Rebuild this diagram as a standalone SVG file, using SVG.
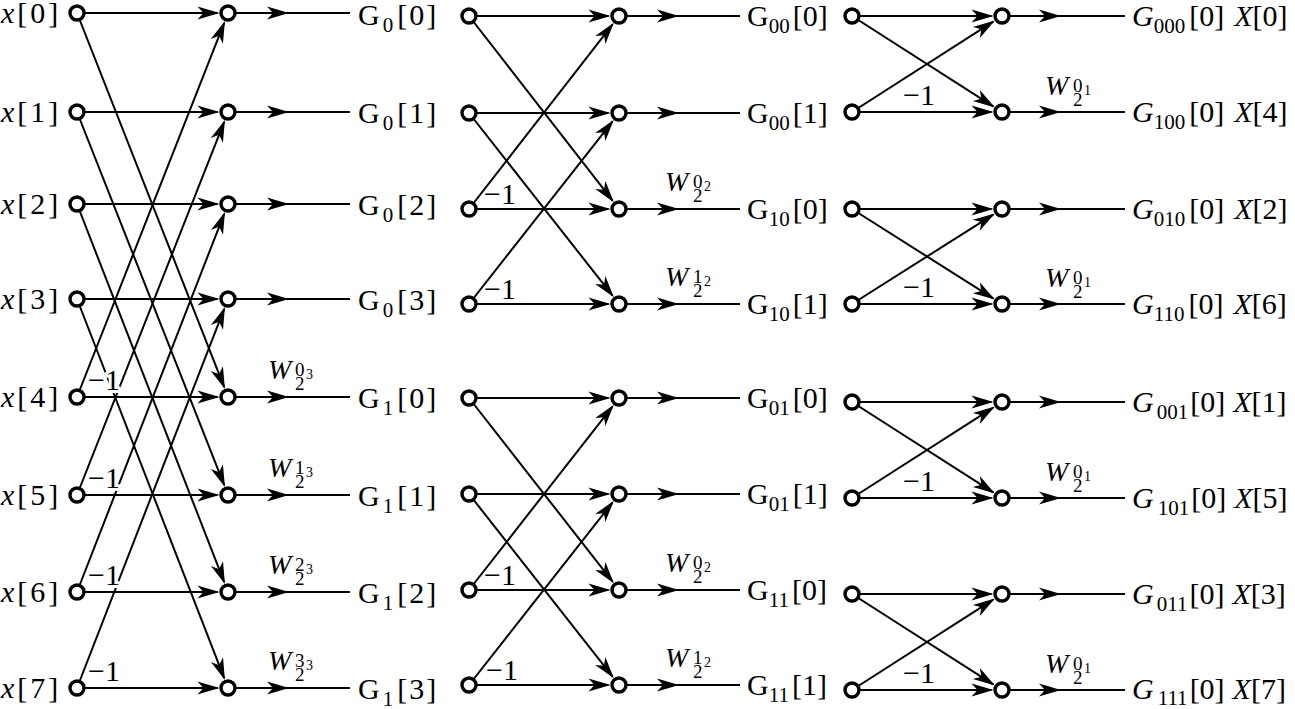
<svg xmlns="http://www.w3.org/2000/svg" width="1295" height="709" viewBox="0 0 1295 709" font-family="'Liberation Serif','DejaVu Serif','Times New Roman',serif">
<defs>
<style>
.c{fill:none;stroke:#000;stroke-width:2}
.a{marker-end:url(#arr)}
.m{marker-mid:url(#arr)}
.n{fill:#fff;stroke:#000;stroke-width:3.4}
text{font-family:'Liberation Serif','DejaVu Serif','Times New Roman',serif;fill:#000}
.t{font-size:30px}
.i{font-style:italic}
.sb{font-size:21px}
.w{font-size:28px;font-style:italic}
.ws{font-size:19px;font-style:normal}
.we{font-size:14px;font-style:normal}
.neg{font-size:30px}
.halo{stroke:#fff;stroke-width:6;paint-order:stroke;stroke-linejoin:round}
</style>
<marker id="arr" viewBox="-21 -7 24 14" refX="0" refY="0" markerWidth="24" markerHeight="14" markerUnits="userSpaceOnUse" orient="auto">
<path d="M2,0 L-20,-6.5 L-14,0 L-20,6.5 Z" fill="#000"/>
</marker>
</defs>
<rect width="1295" height="709" fill="#fff"/>

<g id="connectors">
<path class="c a" d="M77,13 H217.5"/>
<path class="c a" d="M77,112 H217.5"/>
<path class="c a" d="M77,204 H217.5"/>
<path class="c a" d="M77,299 H217.5"/>
<path class="c a" d="M77,397 H217.5"/>
<path class="c a" d="M77,495 H217.5"/>
<path class="c a" d="M77,592 H217.5"/>
<path class="c a" d="M77,688 H217.5"/>
<path class="c a" d="M77,13 L224.2,387.2"/>
<path class="c a" d="M77,112 L224.2,485.2"/>
<path class="c a" d="M77,204 L224.2,582.2"/>
<path class="c a" d="M77,299 L224.2,678.2"/>
<path class="c a" d="M77,397 L224.2,22.8"/>
<path class="c a" d="M77,495 L224.2,121.8"/>
<path class="c a" d="M77,592 L224.2,213.8"/>
<path class="c a" d="M77,688 L224.2,308.8"/>
<path class="c m" d="M228,13 H287 H350"/>
<path class="c m" d="M228,112 H287 H350"/>
<path class="c m" d="M228,204 H287 H350"/>
<path class="c m" d="M228,299 H287 H350"/>
<path class="c m" d="M228,397 H287 H350"/>
<path class="c m" d="M228,495 H287 H350"/>
<path class="c m" d="M228,592 H287 H350"/>
<path class="c m" d="M228,688 H287 H350"/>
<path class="c a" d="M469,16 H608.5"/>
<path class="c a" d="M469,113 H608.5"/>
<path class="c a" d="M469,209 H608.5"/>
<path class="c a" d="M469,304 H608.5"/>
<path class="c a" d="M469,398 H608.5"/>
<path class="c a" d="M469,494 H608.5"/>
<path class="c a" d="M469,590 H608.5"/>
<path class="c a" d="M469,685 H608.5"/>
<path class="c a" d="M469,16 L612.6,200.7"/>
<path class="c a" d="M469,113 L612.6,295.7"/>
<path class="c a" d="M469,209 L612.6,24.3"/>
<path class="c a" d="M469,304 L612.6,121.3"/>
<path class="c a" d="M469,398 L612.6,581.7"/>
<path class="c a" d="M469,494 L612.6,676.7"/>
<path class="c a" d="M469,590 L612.6,406.3"/>
<path class="c a" d="M469,685 L612.6,502.3"/>
<path class="c m" d="M619,16 H677 H740"/>
<path class="c m" d="M619,113 H677 H740"/>
<path class="c m" d="M619,209 H677 H740"/>
<path class="c m" d="M619,304 H677 H740"/>
<path class="c m" d="M619,398 H677 H740"/>
<path class="c m" d="M619,494 H677 H740"/>
<path class="c m" d="M619,590 H677 H740"/>
<path class="c m" d="M619,685 H677 H740"/>
<path class="c a" d="M852,16 H991.5"/>
<path class="c a" d="M852,112 H991.5"/>
<path class="c a" d="M852,209 H991.5"/>
<path class="c a" d="M852,304 H991.5"/>
<path class="c a" d="M852,402 H991.5"/>
<path class="c a" d="M852,498 H991.5"/>
<path class="c a" d="M852,594 H991.5"/>
<path class="c a" d="M852,690 H991.5"/>
<path class="c a" d="M852,16 L993.2,106.3"/>
<path class="c a" d="M852,112 L993.2,21.7"/>
<path class="c a" d="M852,209 L993.2,298.4"/>
<path class="c a" d="M852,304 L993.2,214.6"/>
<path class="c a" d="M852,402 L993.2,492.3"/>
<path class="c a" d="M852,498 L993.2,407.7"/>
<path class="c a" d="M852,594 L993.2,684.3"/>
<path class="c a" d="M852,690 L993.2,599.7"/>
<path class="c m" d="M1002,16 H1059 H1125"/>
<path class="c m" d="M1002,112 H1059 H1125"/>
<path class="c m" d="M1002,209 H1059 H1125"/>
<path class="c m" d="M1002,304 H1059 H1125"/>
<path class="c m" d="M1002,402 H1059 H1125"/>
<path class="c m" d="M1002,498 H1059 H1125"/>
<path class="c m" d="M1002,594 H1059 H1125"/>
<path class="c m" d="M1002,690 H1059 H1125"/>
</g>

<g id="branch-labels">
<text class="neg halo" x="88" y="390">−1</text>
<text class="neg halo" x="88" y="488">−1</text>
<text class="neg halo" x="88" y="585">−1</text>
<text class="neg halo" x="88" y="681">−1</text>
<text class="neg" x="484" y="204">−1</text>
<text class="neg" x="484" y="299">−1</text>
<text class="neg" x="484" y="585">−1</text>
<text class="neg" x="486" y="680">−1</text>
<text class="neg" x="903" y="105">−1</text>
<text class="neg" x="903" y="297">−1</text>
<text class="neg" x="903" y="491">−1</text>
<text class="neg" x="903" y="683">−1</text>

<text class="w"><tspan x="268" y="379">W</tspan><tspan class="ws" x="295" y="376">0</tspan><tspan class="ws" x="295" y="390">2</tspan><tspan class="we" x="306" y="379">3</tspan></text>
<text class="w"><tspan x="268" y="477">W</tspan><tspan class="ws" x="295" y="474">1</tspan><tspan class="ws" x="295" y="488">2</tspan><tspan class="we" x="306" y="477">3</tspan></text>
<text class="w"><tspan x="268" y="574">W</tspan><tspan class="ws" x="295" y="571">2</tspan><tspan class="ws" x="295" y="585">2</tspan><tspan class="we" x="306" y="574">3</tspan></text>
<text class="w"><tspan x="268" y="670">W</tspan><tspan class="ws" x="295" y="667">3</tspan><tspan class="ws" x="295" y="681">2</tspan><tspan class="we" x="306" y="670">3</tspan></text>

<text class="w"><tspan x="665" y="191">W</tspan><tspan class="ws" x="693" y="188">0</tspan><tspan class="ws" x="693" y="202">2</tspan><tspan class="we" x="704" y="191">2</tspan></text>
<text class="w"><tspan x="665" y="286">W</tspan><tspan class="ws" x="693" y="283">1</tspan><tspan class="ws" x="693" y="297">2</tspan><tspan class="we" x="704" y="286">2</tspan></text>
<text class="w"><tspan x="665" y="572">W</tspan><tspan class="ws" x="693" y="569">0</tspan><tspan class="ws" x="693" y="583">2</tspan><tspan class="we" x="704" y="572">2</tspan></text>
<text class="w"><tspan x="665" y="667">W</tspan><tspan class="ws" x="693" y="664">1</tspan><tspan class="ws" x="693" y="678">2</tspan><tspan class="we" x="704" y="667">2</tspan></text>

<text class="w"><tspan x="1045" y="95">W</tspan><tspan class="ws" x="1073" y="92">0</tspan><tspan class="ws" x="1073" y="106">2</tspan><tspan class="we" x="1084" y="95">1</tspan></text>
<text class="w"><tspan x="1045" y="287">W</tspan><tspan class="ws" x="1073" y="284">0</tspan><tspan class="ws" x="1073" y="298">2</tspan><tspan class="we" x="1084" y="287">1</tspan></text>
<text class="w"><tspan x="1045" y="481">W</tspan><tspan class="ws" x="1073" y="478">0</tspan><tspan class="ws" x="1073" y="492">2</tspan><tspan class="we" x="1084" y="481">1</tspan></text>
<text class="w"><tspan x="1045" y="673">W</tspan><tspan class="ws" x="1073" y="670">0</tspan><tspan class="ws" x="1073" y="684">2</tspan><tspan class="we" x="1084" y="673">1</tspan></text>
</g>

<g id="output-labels">
<text class="t" x="358" y="25">G<tspan class="sb" dx="3" dy="7">0</tspan><tspan dx="4" dy="-7" letter-spacing="2">[0]</tspan></text>
<text class="t" x="358" y="123">G<tspan class="sb" dx="3" dy="7">0</tspan><tspan dx="4" dy="-7" letter-spacing="2">[1]</tspan></text>
<text class="t" x="358" y="215">G<tspan class="sb" dx="3" dy="7">0</tspan><tspan dx="4" dy="-7" letter-spacing="2">[2]</tspan></text>
<text class="t" x="358" y="310">G<tspan class="sb" dx="3" dy="7">0</tspan><tspan dx="4" dy="-7" letter-spacing="2">[3]</tspan></text>
<text class="t" x="358" y="408">G<tspan class="sb" dx="3" dy="7">1</tspan><tspan dx="4" dy="-7" letter-spacing="2">[0]</tspan></text>
<text class="t" x="358" y="506">G<tspan class="sb" dx="3" dy="7">1</tspan><tspan dx="4" dy="-7" letter-spacing="2">[1]</tspan></text>
<text class="t" x="358" y="603">G<tspan class="sb" dx="3" dy="7">1</tspan><tspan dx="4" dy="-7" letter-spacing="2">[2]</tspan></text>
<text class="t" x="358" y="699">G<tspan class="sb" dx="3" dy="7">1</tspan><tspan dx="4" dy="-7" letter-spacing="2">[3]</tspan></text>

<text class="t" x="747" y="26">G<tspan class="sb" dy="7">00</tspan><tspan dx="3" dy="-7">[0]</tspan></text>
<text class="t" x="747" y="123">G<tspan class="sb" dy="7">00</tspan><tspan dx="3" dy="-7">[1]</tspan></text>
<text class="t" x="747" y="219">G<tspan class="sb" dy="7">10</tspan><tspan dx="3" dy="-7">[0]</tspan></text>
<text class="t" x="747" y="314">G<tspan class="sb" dy="7">10</tspan><tspan dx="3" dy="-7">[1]</tspan></text>
<text class="t" x="747" y="408">G<tspan class="sb" dy="7">01</tspan><tspan dx="3" dy="-7">[0]</tspan></text>
<text class="t" x="747" y="504">G<tspan class="sb" dy="7">01</tspan><tspan dx="3" dy="-7">[1]</tspan></text>
<text class="t" x="747" y="600">G<tspan class="sb" dy="7">11</tspan><tspan dx="3" dy="-7">[0]</tspan></text>
<text class="t" x="747" y="695">G<tspan class="sb" dy="7">11</tspan><tspan dx="3" dy="-7">[1]</tspan></text>

<text class="t" x="1132" y="26"><tspan class="i">G</tspan><tspan class="sb" dy="7">000</tspan><tspan dx="4" dy="-7">[0]</tspan><tspan class="i" dx="10">X</tspan>[0]</text>
<text class="t" x="1132" y="122"><tspan class="i">G</tspan><tspan class="sb" dy="7">100</tspan><tspan dx="4" dy="-7">[0]</tspan><tspan class="i" dx="10">X</tspan>[4]</text>
<text class="t" x="1132" y="219"><tspan class="i">G</tspan><tspan class="sb" dy="7">010</tspan><tspan dx="4" dy="-7">[0]</tspan><tspan class="i" dx="10">X</tspan>[2]</text>
<text class="t" x="1132" y="314"><tspan class="i">G</tspan><tspan class="sb" dy="7">110</tspan><tspan dx="4" dy="-7">[0]</tspan><tspan class="i" dx="10">X</tspan>[6]</text>
<text class="t" x="1132" y="412"><tspan class="i">G</tspan><tspan class="sb" dx="3" dy="7">001</tspan><tspan dx="2" dy="-7">[0]</tspan><tspan class="i" dx="8">X</tspan>[1]</text>
<text class="t" x="1132" y="508"><tspan class="i">G</tspan><tspan class="sb" dx="4" dy="7">101</tspan><tspan dx="2" dy="-7">[0]</tspan><tspan class="i" dx="8">X</tspan>[5]</text>
<text class="t" x="1132" y="604"><tspan class="i">G</tspan><tspan class="sb" dx="3" dy="7">011</tspan><tspan dx="2" dy="-7">[0]</tspan><tspan class="i" dx="8">X</tspan>[3]</text>
<text class="t" x="1132" y="699"><tspan class="i">G</tspan><tspan class="sb" dx="4" dy="6">111</tspan><tspan dx="2" dy="-6">[0]</tspan><tspan class="i" dx="8">X</tspan>[7]</text>
</g>

<g id="stage1-inputs">
<g id="x0"><circle class="n" cx="77" cy="13" r="7"/><text class="t" x="1" y="23" letter-spacing="3"><tspan class="i">x</tspan>[0]</text></g>
<g id="x1"><circle class="n" cx="77" cy="112" r="7"/><text class="t" x="1" y="122" letter-spacing="3"><tspan class="i">x</tspan>[1]</text></g>
<g id="x2"><circle class="n" cx="77" cy="204" r="7"/><text class="t" x="1" y="214" letter-spacing="3"><tspan class="i">x</tspan>[2]</text></g>
<g id="x3"><circle class="n" cx="77" cy="299" r="7"/><text class="t" x="1" y="309" letter-spacing="3"><tspan class="i">x</tspan>[3]</text></g>
<g id="x4"><circle class="n" cx="77" cy="397" r="7"/><text class="t" x="1" y="407" letter-spacing="3"><tspan class="i">x</tspan>[4]</text></g>
<g id="x5"><circle class="n" cx="77" cy="495" r="7"/><text class="t" x="1" y="505" letter-spacing="3"><tspan class="i">x</tspan>[5]</text></g>
<g id="x6"><circle class="n" cx="77" cy="592" r="7"/><text class="t" x="1" y="602" letter-spacing="3"><tspan class="i">x</tspan>[6]</text></g>
<g id="x7"><circle class="n" cx="77" cy="688" r="7"/><text class="t" x="1" y="698" letter-spacing="3"><tspan class="i">x</tspan>[7]</text></g>
</g>
<g id="stage1-outputs">
<g id="s1o0"><circle class="n" cx="228" cy="13" r="7"/></g>
<g id="s1o1"><circle class="n" cx="228" cy="112" r="7"/></g>
<g id="s1o2"><circle class="n" cx="228" cy="204" r="7"/></g>
<g id="s1o3"><circle class="n" cx="228" cy="299" r="7"/></g>
<g id="s1o4"><circle class="n" cx="228" cy="397" r="7"/></g>
<g id="s1o5"><circle class="n" cx="228" cy="495" r="7"/></g>
<g id="s1o6"><circle class="n" cx="228" cy="592" r="7"/></g>
<g id="s1o7"><circle class="n" cx="228" cy="688" r="7"/></g>
</g>
<g id="stage2-inputs">
<g id="s2i0"><circle class="n" cx="469" cy="16" r="7"/></g>
<g id="s2i1"><circle class="n" cx="469" cy="113" r="7"/></g>
<g id="s2i2"><circle class="n" cx="469" cy="209" r="7"/></g>
<g id="s2i3"><circle class="n" cx="469" cy="304" r="7"/></g>
<g id="s2i4"><circle class="n" cx="469" cy="398" r="7"/></g>
<g id="s2i5"><circle class="n" cx="469" cy="494" r="7"/></g>
<g id="s2i6"><circle class="n" cx="469" cy="590" r="7"/></g>
<g id="s2i7"><circle class="n" cx="469" cy="685" r="7"/></g>
</g>
<g id="stage2-outputs">
<g id="s2o0"><circle class="n" cx="619" cy="16" r="7"/></g>
<g id="s2o1"><circle class="n" cx="619" cy="113" r="7"/></g>
<g id="s2o2"><circle class="n" cx="619" cy="209" r="7"/></g>
<g id="s2o3"><circle class="n" cx="619" cy="304" r="7"/></g>
<g id="s2o4"><circle class="n" cx="619" cy="398" r="7"/></g>
<g id="s2o5"><circle class="n" cx="619" cy="494" r="7"/></g>
<g id="s2o6"><circle class="n" cx="619" cy="590" r="7"/></g>
<g id="s2o7"><circle class="n" cx="619" cy="685" r="7"/></g>
</g>
<g id="stage3-inputs">
<g id="s3i0"><circle class="n" cx="852" cy="16" r="7"/></g>
<g id="s3i1"><circle class="n" cx="852" cy="112" r="7"/></g>
<g id="s3i2"><circle class="n" cx="852" cy="209" r="7"/></g>
<g id="s3i3"><circle class="n" cx="852" cy="304" r="7"/></g>
<g id="s3i4"><circle class="n" cx="852" cy="402" r="7"/></g>
<g id="s3i5"><circle class="n" cx="852" cy="498" r="7"/></g>
<g id="s3i6"><circle class="n" cx="852" cy="594" r="7"/></g>
<g id="s3i7"><circle class="n" cx="852" cy="690" r="7"/></g>
</g>
<g id="stage3-outputs">
<g id="s3o0"><circle class="n" cx="1002" cy="16" r="7"/></g>
<g id="s3o1"><circle class="n" cx="1002" cy="112" r="7"/></g>
<g id="s3o2"><circle class="n" cx="1002" cy="209" r="7"/></g>
<g id="s3o3"><circle class="n" cx="1002" cy="304" r="7"/></g>
<g id="s3o4"><circle class="n" cx="1002" cy="402" r="7"/></g>
<g id="s3o5"><circle class="n" cx="1002" cy="498" r="7"/></g>
<g id="s3o6"><circle class="n" cx="1002" cy="594" r="7"/></g>
<g id="s3o7"><circle class="n" cx="1002" cy="690" r="7"/></g>
</g>
</svg>
